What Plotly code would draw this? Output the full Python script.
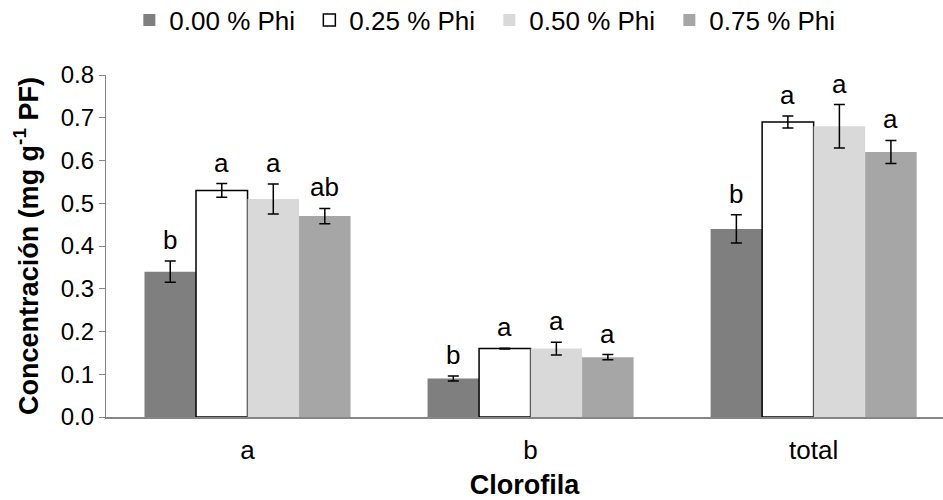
import plotly.graph_objects as go

categories = ["a", "b", "total"]
series_names = ["0.00 % Phi", "0.25 % Phi", "0.50 % Phi", "0.75 % Phi"]
values = [
    [0.34, 0.09, 0.44],
    [0.53, 0.16, 0.69],
    [0.51, 0.16, 0.68],
    [0.47, 0.14, 0.62],
]
errors = [
    [0.025, 0.006, 0.033],
    [0.016, 0.001, 0.014],
    [0.035, 0.015, 0.051],
    [0.018, 0.006, 0.027],
]
letters = [
    ["b", "b", "b"],
    ["a", "a", "a"],
    ["a", "a", "a"],
    ["ab", "a", "a"],
]
y_ticks = [0.0, 0.1, 0.2, 0.3, 0.4, 0.5, 0.6, 0.7, 0.8]

fill_colors = ["#7f7f7f", "#ffffff", "#d9d9d9", "#a6a6a6"]
line_colors = ["#7f7f7f", "#000000", "#d9d9d9", "#a6a6a6"]
line_widths = [0, 1.5, 0, 0]

FONT = "Arial, Liberation Sans, sans-serif"
W, H = 943, 500
ML, MR, MT, MB = 106, 0, 75, 83
XRANGE = [-0.5, 2.457]
BARGAP = 0.272

fig = go.Figure()
for i, name in enumerate(series_names):
    fig.add_trace(go.Bar(
        name=name, x=categories, y=values[i],
        marker=dict(color=fill_colors[i],
                    line=dict(color=line_colors[i], width=line_widths[i])),
        error_y=dict(type="data", array=errors[i], visible=True,
                     color="#000000", thickness=1.5, width=5.5),
    ))

# letters above error bars
plot_w = W - ML - MR
cat_px = plot_w / (XRANGE[1] - XRANGE[0])
bar_px = cat_px * (1 - BARGAP) / len(series_names)
for i in range(len(series_names)):
    for j, c in enumerate(categories):
        fig.add_annotation(
            x=c, y=values[i][j] + errors[i][j], text=letters[i][j],
            showarrow=False, xanchor="center", yanchor="bottom",
            xshift=(i - (len(series_names) - 1) / 2) * bar_px, yshift=4,
            font=dict(family=FONT, size=26, color="#000000"),
        )

fig.update_layout(
    width=W, height=H,
    margin=dict(l=ML, r=MR, t=MT, b=MB, autoexpand=False),
    paper_bgcolor="#ffffff", plot_bgcolor="#ffffff",
    barmode="group", bargap=BARGAP, bargroupgap=0,
    font=dict(family=FONT, size=24, color="#000000"),
    showlegend=True,
    legend=dict(orientation="h", x=0.458, xanchor="center",
                y=0.96, yanchor="middle", yref="container",
                entrywidth=135, entrywidthmode="pixels",
                font=dict(family=FONT, size=26, color="#000000"),
                bgcolor="rgba(0,0,0,0)"),
    xaxis=dict(type="category", range=XRANGE, showline=True,
               linecolor="#868686", linewidth=2, ticks="",
               showgrid=False, zeroline=False, ticklabelstandoff=9,
               tickfont=dict(family=FONT, size=26),
               title=dict(text="<b>Clorofila</b>", standoff=17,
                          font=dict(family=FONT, size=27))),
    yaxis=dict(range=[0, 0.8], tickvals=y_ticks,
               ticktext=[f"{v:.1f}" for v in y_ticks],
               showline=True, linecolor="#868686", linewidth=1.3,
               ticks="outside", ticklen=6, tickcolor="#868686", tickwidth=1.3,
               showgrid=False, zeroline=False,
               tickfont=dict(family=FONT, size=24),
               title=dict(text="<b>Concentración (mg g<sup>-1</sup> PF)</b>",
                          standoff=14, font=dict(family=FONT, size=27))),
)

fig.write_html("out.html")
